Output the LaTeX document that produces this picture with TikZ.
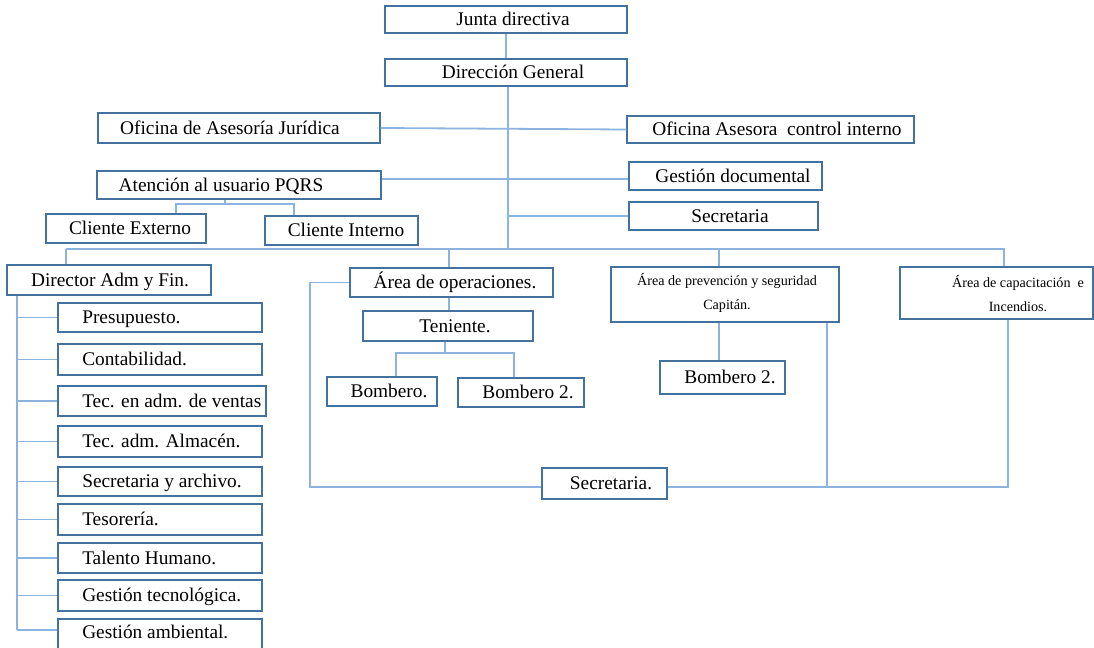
\documentclass[tikz,border=0pt]{standalone}
\usepackage{fontspec}
\setmainfont{Liberation Serif}
\usetikzlibrary{fit}

\definecolor{boxblue}{RGB}{68,114,160}
\definecolor{linkblue}{RGB}{141,180,222}

\tikzset{
  box/.style={draw=boxblue, line width=1.1pt, inner sep=0pt},
  lbl/.style={inner sep=0pt, font=\fontsize{14.5}{16}\selectfont, anchor=mid, yshift=-2.25pt},
  lblleft/.style={lbl, anchor=mid west},
  lblsmall/.style={inner sep=0pt, font=\fontsize{10.6}{18}\selectfont, align=center, yshift=-1.5pt},
  link/.style={draw=linkblue, line width=1.35pt},
}

\begin{document}
\begin{tikzpicture}[x=0.75pt,y=-0.75pt]
\useasboundingbox (0,0) rectangle (1094,647);
\clip (0,0) rectangle (1094,647);

% ---------- boxes ----------
\node[box, fit={(385,6)(627,33)}]    (junta) {};
\node[box, fit={(385,59)(627,86)}]   (direc) {};
\node[box, fit={(98,113)(380,143)}]  (juridica) {};
\node[box, fit={(627,116)(914,143)}] (asesora) {};
\node[box, fit={(97,171)(381,199)}]  (atencion) {};
\node[box, fit={(629,162)(822,190)}] (gestdoc) {};
\node[box, fit={(629,202)(818,230)}] (secret) {};
\node[box, fit={(46,214)(206,243)}]  (cliext) {};
\node[box, fit={(265,216)(418,245)}] (cliint) {};
\node[box, fit={(7,265)(211,295)}]   (director) {};
\node[box, fit={(350,268)(553,297)}] (oper) {};
\node[box, fit={(611,267)(839,322)}] (prev) {};
\node[box, fit={(900,267)(1093,319)}] (capac) {};
\node[box, fit={(363,311)(533,341)}] (teniente) {};
\node[box, fit={(327,377)(437,406)}] (bomb1) {};
\node[box, fit={(458,378)(584,407)}] (bomb2) {};
\node[box, fit={(660,361)(785,394)}] (bomb3) {};
\node[box, fit={(542,468)(667,499)}] (secr2) {};

% administrative units
\node[box, fit={(58,303)(262,332)}]  (presup) {};
\node[box, fit={(58,344)(262,375)}]  (contab) {};
\node[box, fit={(58,386)(266,416)}]  (ventas) {};
\node[box, fit={(58,426)(262,457)}]  (almacen) {};
\node[box, fit={(58,467)(262,496)}]  (secarch) {};
\node[box, fit={(58,504)(262,535)}]  (tesor) {};
\node[box, fit={(58,543)(262,573)}]  (talento) {};
\node[box, fit={(58,580)(262,611)}]  (gtec) {};
\node[box, fit={(58,619)(262,662)}]  (gamb) {};

% ---------- labels ----------
\node[lbl] (junta-t)    at (513,19.5)  {Junta directiva};
\node[lbl] (direc-t)    at (513,72.5)  {Dirección General};
\node[lbl] (juridica-t) at (230,128)   {Oficina de Asesoría Jurídica};
\node[lbl] (asesora-t)  at (777,129.5) {Oficina Asesora\ \ control interno};
\node[lbl] (atencion-t) at (221,185)   {Atención al usuario PQRS};
\node[lbl] (gestdoc-t)  at (733,176)   {Gestión documental};
\node[lbl] (secret-t)   at (730,216)   {Secretaria};
\node[lbl] (cliext-t)   at (130,228.5) {Cliente Externo};
\node[lbl] (cliint-t)   at (346,230.5) {Cliente Interno};
\node[lbl] (director-t) at (110,280)   {Director Adm y Fin.};
\node[lbl] (oper-t)     at (455,282.5) {Área de operaciones.};
\node[lbl] (teniente-t) at (455,326)   {Teniente.};
\node[lbl] (bomb1-t)    at (389,391.5) {Bombero.};
\node[lbl] (bomb2-t)    at (528,392.5) {Bombero 2.};
\node[lbl] (bomb3-t)    at (730,377.5) {Bombero 2.};
\node[lbl] (secr2-t)    at (611,483.5) {Secretaria.};
\node[lblsmall] (prev-t)  at (727,291) {Área de prevención y seguridad\\Capitán.};
\node[lblsmall] (capac-t) at (1018,292) {Área de capacitación\ \ e\\Incendios.};

\node[lblleft] (presup-t)  at (82,317.5) {Presupuesto.};
\node[lblleft] (contab-t)  at (82,359.5) {Contabilidad.};
\node[lblleft] (ventas-t)  at (82,401)   {Tec. en adm. de ventas};
\node[lblleft] (almacen-t) at (82,441.5) {Tec. adm. Almacén.};
\node[lblleft] (secarch-t) at (82,481.5) {Secretaria y archivo.};
\node[lblleft] (tesor-t)   at (82,519.5) {Tesorería.};
\node[lblleft] (talento-t) at (82,558)   {Talento Humano.};
\node[lblleft] (gtec-t)    at (82,595.5) {Gestión tecnológica.};
\node[lblleft] (gamb-t)    at (82,632)   {Gestión ambiental.};

% ---------- junction points ----------
\coordinate (trunk)     at (508,249);
\coordinate (pqrsline)  at (0,179);
\coordinate (pq-split)  at (225,204);
\coordinate (ce-drop)   at (176,204);
\coordinate (ci-drop)   at (294,204);
\coordinate (bar-l)     at (66,249);
\coordinate (bar-r)     at (1005,249);
\coordinate (x-oper)    at (449,249);
\coordinate (x-prev)    at (719,249);
\coordinate (x-cap)     at (1004,249);
\coordinate (ten-split) at (445,353);
\coordinate (b1-drop)   at (396,353);
\coordinate (b2-drop)   at (514,353);
\coordinate (loop-l)    at (310,487);
\coordinate (prev-drop) at (827,487);
\coordinate (cap-drop)  at (1008,487);
\coordinate (spine-end) at (17,630);

% ---------- connectors ----------
\draw[link] (junta.south) -- (direc.north);
\draw[link] (direc.south -| trunk) -- (trunk);
\draw[link] (juridica.east) -- (asesora.west);
\draw[link] (atencion.east |- pqrsline) -- (gestdoc.west |- pqrsline);
\draw[link] (trunk |- secret.west) -- (secret.west);

\draw[link] (atencion.south -| pq-split) -- (pq-split);
\draw[link] (cliext.north -| ce-drop) -- (ce-drop) -- (ci-drop) -- (cliint.north -| ci-drop);

\draw[link] (bar-l) -- (bar-r);
\draw[link] (bar-l) -- (director.north -| bar-l);
\draw[link] (x-oper) -- (oper.north -| x-oper);
\draw[link] (x-prev) -- (prev.north -| x-prev);
\draw[link] (x-cap) -- (capac.north -| x-cap);

\draw[link] (oper.south -| x-oper) -- (teniente.north -| x-oper);
\draw[link] (teniente.south -| ten-split) -- (ten-split);
\draw[link] (bomb1.north -| b1-drop) -- (b1-drop) -- (b2-drop) -- (bomb2.north -| b2-drop);
\draw[link] (prev.south -| x-prev) -- (bomb3.north -| x-prev);

\draw[link] (oper.west) -| (loop-l) -- (secr2.west |- loop-l);
\draw[link] (secr2.east |- loop-l) -- (cap-drop) -- (capac.south -| cap-drop);
\draw[link] (prev.south -| prev-drop) -- (prev-drop);

\draw[link] (director.south -| spine-end) -- (spine-end);
\foreach \n in {presup,contab,ventas,almacen,secarch,tesor,talento,gtec}
  \draw[link] (spine-end |- \n.west) -- (\n.west);
\draw[link] (spine-end) -- (gamb.west |- spine-end);
\end{tikzpicture}
\end{document}
